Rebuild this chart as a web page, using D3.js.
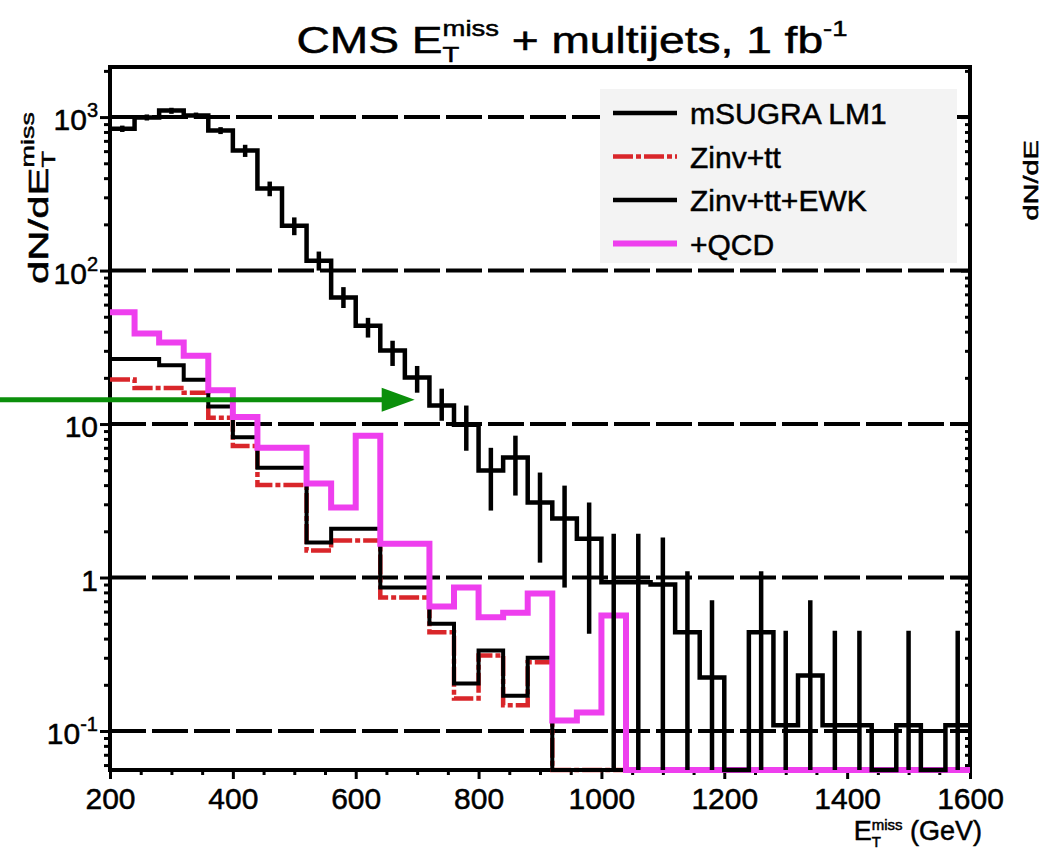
<!DOCTYPE html>
<html><head><meta charset="utf-8">
<script src="https://cdn.jsdelivr.net/npm/d3@7"></script>
<style>
body{margin:0;background:#fff}
svg{display:block}
text{font-family:"Liberation Sans",Arial,Helvetica,sans-serif;fill:#000;white-space:pre;stroke:#000;stroke-width:0.5px}
</style>
</head><body>
<svg id="c" width="1045" height="851"></svg>
<script>
// ---------------- data ----------------
const binLow = [200,240,280,320,360,400,440,480,520,560,600,640,680,720,760,800,840,880,920,960,
                1000,1040,1080,1120,1160,1200,1240,1280,1320,1360,1400,1440,1480,1520,1560];
const binWidth = 40;
const mSugra = [841,993,1102,1023,817,605,342,196,116,66.7,43.7,30.1,20.1,13.2,9.9,4.98,6.05,3.08,2.42,1.79,
                0.93,0.93,0.90,0.44,0.223,0,0.44,0.109,0.23,0.109,0.109,0,0.109,0,0.109];
const mSugraErrHi = [880,1040,1150,1070,860,660,380,222,133,78,49.2,34.9,23.9,17.0,13.2,7.0,8.4,4.83,3.97,3.08,
                     1.93,1.93,1.82,1.1,0.71,0,1.1,0.45,0.71,0.45,0.45,0,0.45,0,0.45];
const mSugraErrLo = [800,950,1050,975,775,550,305,170,100,57,36.6,23.9,16.0,10.5,6.7,2.73,3.42,1.25,0.86,0.43,
                     0,0,0,0,0,0,0,0,0,0,0,0,0,0,0];
const zinvTt = [19.5,17.2,17.2,16,11,7.2,4.0,4.0,1.5,1.74,1.74,0.74,0.74,0.44,0.163,0.31,0.147,0.28,
                0,0,0,0,0,0,0,0,0,0,0,0,0,0,0,0,0];
const zinvTtEwk = [26.5,26.5,24.2,19.4,13.0,8.2,5.2,5.2,1.69,2.08,2.08,0.86,0.86,0.50,0.204,0.334,0.17,0.30,
                   0,0,0,0,0,0,0,0,0,0,0,0,0,0,0,0,0];
const plusQcd = [53.5,38.9,34,27.9,16.6,11.1,7.0,7.0,4.1,2.86,8.4,1.66,1.66,0.647,0.86,0.55,0.59,0.787,0.117,0.132,
                 0.565,0,0,0,0,0,0,0,0,0,0,0,0,0,0];
const xTickLabels = [200,400,600,800,1000,1200,1400,1600];
const xMinorTicks = [250,300,350,450,500,550,650,700,750,850,900,950,1050,1100,1150,1250,1300,1350,1450,1500,1550];
const yDecades = [0.1,1,10,100,1000];
const yDecadeExp = [-1,0,1,2,3];
const legendNames = ["mSUGRA LM1","Zinv+tt","Zinv+tt+EWK","+QCD"];
const arrowTip = {e:696, v:14.4};
const xRange = [200,1600];
const yRange = [0.0557,2120];

// ---------------- layout ----------------
const svg = d3.select("#c");
const L=110,R=970,T=67,B=770;
const x = d3.scaleLinear().domain(xRange).range([L,R]);
const y = d3.scaleLog().domain(yRange).range([B,T]);
const yv = v => y(Math.max(v, yRange[0]));

const FONT = '"Liberation Sans",Arial,Helvetica,sans-serif';

// rich text helper (supports stacked sub/superscripts)
function rich(parent, segs){
  const g = parent.append("g");
  let cx = 0;
  segs.forEach(s=>{
    if(s.stack){
      const a = g.append("text").attr("x",cx).attr("y",s.subDy).attr("font-size",s.fs).text(s.sub);
      const b = g.append("text").attr("x",cx).attr("y",s.supDy).attr("font-size",s.fs).text(s.sup);
      cx += Math.max(a.node().getComputedTextLength(), b.node().getComputedTextLength());
    } else {
      const t = g.append("text").attr("x",cx).attr("y",s.dy||0).attr("font-size",s.fs).text(s.t);
      cx += t.node().getComputedTextLength();
    }
  });
  return {g, w:cx};
}

// ---------------- gridlines ----------------
svg.append("g").selectAll("line").data(yDecades).join("line")
  .attr("x1",L).attr("x2",R).attr("y1",d=>y(d)).attr("y2",d=>y(d))
  .attr("stroke","#000").attr("stroke-width",4).attr("stroke-dasharray","36,6");

// ---------------- legend box ----------------
const legX=600, legY=89, legW=357, legH=174;
svg.append("rect").attr("x",legX).attr("y",legY).attr("width",legW).attr("height",legH).attr("fill","#f3f3f3");

// ---------------- frame & axes ----------------
svg.append("rect").attr("x",L).attr("y",T).attr("width",R-L).attr("height",B-T)
  .attr("fill","none").attr("stroke","#000").attr("stroke-width",4);

const styleAxis = g => { g.select(".domain").remove(); g.selectAll(".tick line").attr("stroke","#000").attr("stroke-width",3); };

svg.append("g").attr("transform",`translate(0,${B})`)
  .call(d3.axisBottom(x).tickValues(xTickLabels).tickSize(9).tickPadding(9).tickFormat(d3.format("d")))
  .call(styleAxis)
  .call(g=>g.selectAll("text").attr("font-size",30).attr("font-family",FONT).attr("fill","#000"));
svg.append("g").attr("transform",`translate(0,${B})`)
  .call(d3.axisBottom(x).tickValues(xMinorTicks).tickSize(5).tickFormat(""))
  .call(styleAxis);

const yMinor = y.ticks().filter(d=>!yDecades.some(q=>Math.abs(q-d)<1e-9));
svg.append("g").attr("transform",`translate(${L},0)`)
  .call(d3.axisLeft(y).tickValues(yDecades).tickSize(10).tickFormat(""))
  .call(styleAxis);
svg.append("g").attr("transform",`translate(${L},0)`)
  .call(d3.axisLeft(y).tickValues(yMinor).tickSize(6).tickFormat(""))
  .call(styleAxis);
svg.append("g").attr("transform",`translate(${R},0)`)
  .call(d3.axisLeft(y).tickValues(yDecades).tickSize(9).tickFormat(""))
  .call(styleAxis);
svg.append("g").attr("transform",`translate(${R},0)`)
  .call(d3.axisLeft(y).tickValues(yMinor).tickSize(5).tickFormat(""))
  .call(styleAxis);

// y tick labels
yDecades.forEach((d,i)=>{
  const e = yDecadeExp[i];
  let segs;
  if(e===0) segs=[{t:"1",fs:30}];
  else if(e===1) segs=[{t:"10",fs:30}];
  else segs=[{t:"10",fs:30},{t:String(e),fs:20,dy:-13}];
  const r = rich(svg, segs);
  r.g.attr("transform",`translate(${98-r.w},${y(d)+13})`);
});

// ---------------- histograms ----------------
const pts = vals => binLow.map((b,i)=>({x:b,v:vals[i]})).concat([{x:binLow[binLow.length-1]+binWidth, v:vals[vals.length-1]}]);
const step = d3.line().x(d=>x(d.x)).y(d=>yv(d.v)).curve(d3.curveStepAfter);

svg.append("path").attr("d",step(pts(zinvTt))).attr("fill","none")
  .attr("stroke","#d9262a").attr("stroke-width",4.5).attr("stroke-dasharray","20,3,5,3");
svg.append("path").attr("d",step(pts(zinvTtEwk))).attr("fill","none")
  .attr("stroke","#000").attr("stroke-width",4);
svg.append("path").attr("d",step(pts(plusQcd))).attr("fill","none")
  .attr("stroke","#ee3fee").attr("stroke-width",6);
svg.append("path").attr("d",step(pts(mSugra))).attr("fill","none")
  .attr("stroke","#000").attr("stroke-width",4.5);
svg.append("g").selectAll("line").data(binLow.map((b,i)=>i).filter(i=>mSugra[i]>0)).join("line")
  .attr("x1",i=>x(binLow[i]+binWidth/2)).attr("x2",i=>x(binLow[i]+binWidth/2))
  .attr("y1",i=>yv(mSugraErrHi[i])).attr("y2",i=>yv(mSugraErrLo[i]))
  .attr("stroke","#000").attr("stroke-width",4.5);

// ---------------- legend content ----------------
const legStyles = [
  {stroke:"#000",w:4.5,dash:null},
  {stroke:"#d9262a",w:4.5,dash:"20,3,5,3"},
  {stroke:"#000",w:4.5,dash:null},
  {stroke:"#ee3fee",w:6,dash:null}
];
legendNames.forEach((n,i)=>{
  const cy = legY + 24 + i*43.5;
  svg.append("line").attr("x1",legX+13).attr("x2",legX+77).attr("y1",cy).attr("y2",cy)
    .attr("stroke",legStyles[i].stroke).attr("stroke-width",legStyles[i].w)
    .attr("stroke-dasharray",legStyles[i].dash);
  svg.append("text").attr("x",legX+90).attr("y",cy+11).attr("font-size",30).text(n);
});

// ---------------- titles ----------------
{
  const r = rich(svg,[{t:"CMS E",fs:37},{stack:true,sub:"T",sup:"miss",fs:22,subDy:9,supDy:-17},
                       {t:" + multijets, 1 fb",fs:37},{t:"-1",fs:22,dy:-17}]);
  const target = 551, sx = target/r.w;
  r.g.attr("transform",`translate(572,53) scale(${sx},1) translate(${-r.w/2},0)`);
}
{
  const r = rich(svg,[{t:"E",fs:27},{stack:true,sub:"T",sup:"miss",fs:15,subDy:7,supDy:-10},{t:" (GeV)",fs:27}]);
  r.g.attr("transform",`translate(${982-r.w},840)`);
}
{
  const r = rich(svg,[{t:"dN/dE",fs:28},{stack:true,sub:"T",sup:"miss",fs:18,subDy:7,supDy:-14}]);
  const sl = 172/r.w;
  r.g.attr("transform",`translate(48,112) rotate(-90) scale(${sl},1) translate(${-r.w},0)`);
}
// axis title of the neighbouring panel, partly visible at the right edge
{
  const r = rich(svg,[{t:"dN/dE",fs:20}]);
  r.g.selectAll("text").attr("fill","#555").attr("stroke","#555");
  r.g.attr("transform",`translate(1038,140) rotate(-90) scale(1.45,1) translate(${-r.w},0)`);
}

// ---------------- green arrow ----------------
{
  const tx = x(arrowTip.e), ty = y(arrowTip.v);
  svg.append("line").attr("x1",0).attr("x2",tx-25).attr("y1",ty).attr("y2",ty)
    .attr("stroke","#0b8f0b").attr("stroke-width",5);
  svg.append("path").attr("d",`M${tx},${ty}L${tx-33},${ty-12}L${tx-33},${ty+12}Z`).attr("fill","#0b8f0b");
}
</script>
</body></html>
